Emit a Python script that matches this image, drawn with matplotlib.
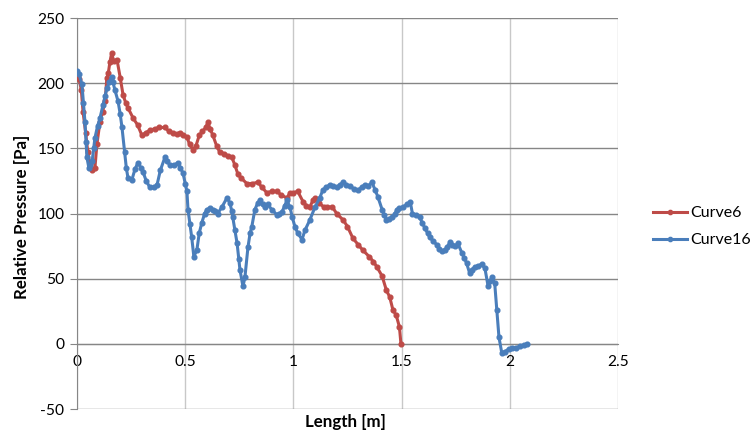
import matplotlib.pyplot as plt

# Curve6 (red)
curve6_x = [0.0, 0.01, 0.02, 0.028, 0.04, 0.05, 0.06, 0.07, 0.083, 0.092, 0.106, 0.118,
            0.13, 0.138, 0.145, 0.152, 0.16, 0.17, 0.185, 0.2, 0.213, 0.225, 0.236, 0.26,
            0.28, 0.3, 0.318, 0.337, 0.36, 0.38, 0.406, 0.425, 0.443, 0.46, 0.476, 0.49,
            0.508, 0.52, 0.536, 0.55, 0.565, 0.58, 0.595, 0.605, 0.615, 0.628, 0.645, 0.66,
            0.68, 0.7, 0.716, 0.73, 0.744, 0.76, 0.785, 0.81, 0.836, 0.855, 0.877, 0.9,
            0.924, 0.945, 0.97, 0.985, 1.0, 1.02, 1.045, 1.06, 1.076, 1.09, 1.1, 1.12,
            1.14, 1.155, 1.18, 1.2, 1.23, 1.25, 1.275, 1.3, 1.32, 1.35, 1.37, 1.386,
            1.41, 1.43, 1.445, 1.46, 1.475, 1.49, 1.497]
curve6_y = [205, 203, 195, 178, 162, 147, 138, 133, 135, 153, 170, 178,
            186, 204, 208, 216, 223, 217, 218, 204, 191, 185, 181, 173,
            168, 160, 162, 164, 165, 166, 166, 163, 162, 161, 162, 160,
            159, 153, 149, 152, 160, 163, 166, 170, 165, 160, 152, 147,
            146, 144, 143, 137, 130, 127, 123, 123, 124, 120, 116, 117,
            117, 114, 112, 116, 116, 117, 109, 106, 105, 110, 112, 108,
            105, 105, 105, 100, 95, 90, 81, 76, 72, 67, 63, 59,
            52, 41, 36, 26, 22, 13, 0]

# Curve16 (blue)
curve16_x = [0.0, 0.01, 0.023, 0.03, 0.037, 0.042, 0.046, 0.055, 0.062, 0.07, 0.077, 0.083,
             0.095, 0.106, 0.12, 0.13, 0.138, 0.15, 0.16, 0.166, 0.175, 0.19, 0.2, 0.208,
             0.22, 0.228, 0.236, 0.254, 0.268, 0.282, 0.295, 0.305, 0.32, 0.337, 0.355, 0.37,
             0.385, 0.406, 0.418, 0.43, 0.45, 0.466, 0.478, 0.49, 0.5, 0.508, 0.513, 0.522,
             0.53, 0.54, 0.554, 0.565, 0.577, 0.59, 0.6, 0.615, 0.628, 0.64, 0.65, 0.67,
             0.693, 0.707, 0.715, 0.72, 0.73, 0.74, 0.748, 0.753, 0.767, 0.776, 0.79, 0.8,
             0.808, 0.822, 0.835, 0.845, 0.858, 0.868, 0.882, 0.9, 0.924, 0.935, 0.947, 0.96,
             0.97, 0.984, 0.995, 1.007, 1.02, 1.04, 1.053, 1.076, 1.1, 1.122, 1.136, 1.15,
             1.168, 1.185, 1.2, 1.215, 1.23, 1.245, 1.26, 1.28, 1.298, 1.315, 1.33, 1.345,
             1.363, 1.378, 1.39, 1.41, 1.42, 1.43, 1.44, 1.455, 1.47, 1.478, 1.49, 1.506,
             1.525, 1.54, 1.55, 1.565, 1.584, 1.595, 1.607, 1.62, 1.63, 1.645, 1.663, 1.675,
             1.686, 1.7, 1.71, 1.723, 1.735, 1.746, 1.76, 1.778, 1.79, 1.8, 1.815, 1.825,
             1.838, 1.855, 1.87, 1.885, 1.9, 1.91, 1.917, 1.93, 1.94, 1.95, 1.963, 1.977,
             1.995, 2.01, 2.03, 2.046, 2.065, 2.08]
curve16_y = [209, 207, 199, 185, 170, 155, 143, 135, 137, 140, 150, 158,
             167, 173, 183, 190, 196, 201, 205, 201, 195, 186, 176, 166,
             147, 135, 127, 126, 134, 139, 135, 132, 125, 120, 120, 122,
             133, 143, 140, 137, 137, 139, 135, 131, 123, 117, 103, 92,
             82, 67, 72, 85, 93, 100, 103, 104, 103, 102, 100, 105,
             112, 108, 102, 97, 87, 77, 65, 57, 44, 51, 74, 85,
             90, 103, 108, 110, 107, 105, 107, 103, 99, 100, 101, 106,
             110, 105, 97, 90, 85, 80, 87, 95, 105, 112, 118, 120,
             122, 121, 120, 122, 124, 122, 121, 119, 118, 120, 122, 121,
             124, 118, 113, 103, 99, 95, 96, 97, 100, 103, 104, 105,
             107, 109, 100, 99, 97, 93, 89, 85, 82, 79, 76, 73,
             71, 72, 74, 78, 76, 75, 77, 70, 66, 62, 54, 57,
             59, 60, 61, 58, 44, 48, 51, 47, 26, 5, -7, -6,
             -4, -3, -3, -2, -1, 0]

x_ticks = [0, 0.5, 1, 1.5, 2, 2.5]
x_labels = ['0', '0.5', '1', '1.5', '2', '2.5']
y_ticks = [-50, 0, 50, 100, 150, 200, 250]

plt.rcParams['font.family'] = ['Lato', 'DejaVu Sans']
plt.rcParams['axes.unicode_minus'] = False

fig = plt.figure(figsize=(7.51, 4.34), dpi=100)
ax = fig.add_axes([0.1025, 0.0576, 0.7204, 0.9009])

ax.plot(curve6_x, curve6_y, color='#BE4B48', lw=2.2, marker='o', ms=3.4,
        label='Curve6', zorder=3)
ax.plot(curve16_x, curve16_y, color='#4A7EBB', lw=2.2, marker='o', ms=3.4,
        label='Curve16', zorder=4)

ax.set_xlim(0, 2.5)
ax.set_ylim(-50, 250)
ax.set_xticks(x_ticks)
ax.set_xticklabels(x_labels)
ax.set_yticks(y_ticks)

# horizontal grid dark, vertical grid light (Excel look)
ax.yaxis.grid(True, color='#868686', lw=1.0)
ax.xaxis.grid(True, color='#C8C8C8', lw=1.0)
ax.set_axisbelow(True)

for s in ['top', 'right']:
    ax.spines[s].set_visible(False)
ax.spines['bottom'].set_position(('data', 0))
ax.spines['bottom'].set_color('#868686')
ax.spines['left'].set_color('#868686')

ax.tick_params(axis='y', length=5, color='#868686', labelsize=11.2, pad=4)
ax.tick_params(axis='x', length=0, labelsize=11.2, pad=8)

fig.text(0.029, 0.5, 'Relative Pressure [Pa]', rotation=90, ha='center', va='center',
         fontsize=12.2, fontweight='bold')
fig.text(0.46, 0.028, 'Length [m]', ha='center', va='center', fontsize=12.2,
         fontweight='bold')

ax.legend(loc='center left', bbox_to_anchor=(0.851, 0.478), bbox_transform=fig.transFigure,
          frameon=False, fontsize=11.5, handlelength=2.1, handletextpad=0.2,
          labelspacing=0.8, borderpad=0.4, markerscale=0.9)

fig.savefig('out.png', dpi=100)
